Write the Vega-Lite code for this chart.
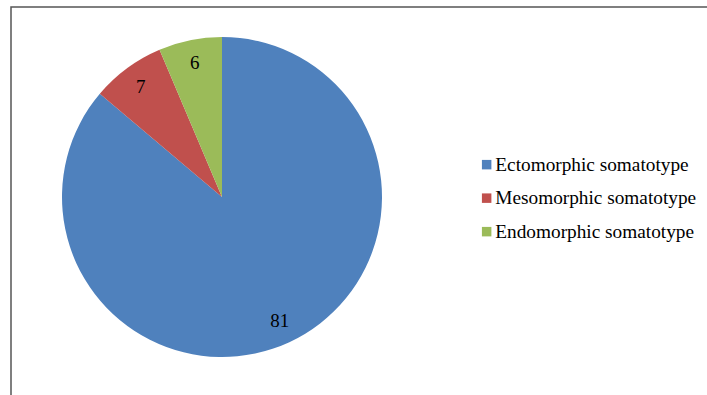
{
  "$schema": "https://vega.github.io/schema/vega-lite/v6.json",
  "autosize": "none",
  "width": 696,
  "height": 388,
  "padding": {"left": 11, "top": 7, "right": 0, "bottom": 0},
  "background": "white",
  "view": {"stroke": "#555555", "strokeWidth": 1.5, "strokeDash": [696, 1084, 388], "fill": "white"},
  "config": {
    "font": "Liberation Serif"
  },
  "data": {
    "values": [
      {"type": "Ectomorphic somatotype", "count": 81, "order": 1},
      {"type": "Mesomorphic somatotype", "count": 7, "order": 2},
      {"type": "Endomorphic somatotype", "count": 6, "order": 3}
    ]
  },
  "encoding": {
    "theta": {"field": "count", "type": "quantitative", "stack": true},
    "order": {"field": "order", "type": "quantitative"}
  },
  "layer": [
    {
      "mark": {"type": "arc", "radius": 160, "x": 211, "y": 190, "stroke": null},
      "encoding": {
        "color": {
          "field": "type",
          "type": "nominal",
          "sort": ["Ectomorphic somatotype", "Mesomorphic somatotype", "Endomorphic somatotype"],
          "scale": {
            "domain": ["Ectomorphic somatotype", "Mesomorphic somatotype", "Endomorphic somatotype"],
            "range": ["#4F81BD", "#C0504D", "#9BBB59"]
          },
          "legend": {
            "title": null,
            "orient": "none",
            "legendX": 466,
            "legendY": 148,
            "padding": 0,
            "symbolType": "square",
            "symbolSize": 90,
            "symbolStrokeWidth": 0,
            "labelFont": "Liberation Serif",
            "labelFontSize": 19.3,
            "labelColor": "#000000",
            "labelOffset": -1,
            "rowPadding": 13.5,
            "labelLimit": 400
          }
        }
      }
    },
    {
      "mark": {"type": "text", "radius": 137, "x": 211, "y": 190, "font": "Liberation Serif", "fontSize": 19, "color": "#000000"},
      "encoding": {
        "text": {"field": "count", "type": "quantitative"}
      }
    }
  ]
}
